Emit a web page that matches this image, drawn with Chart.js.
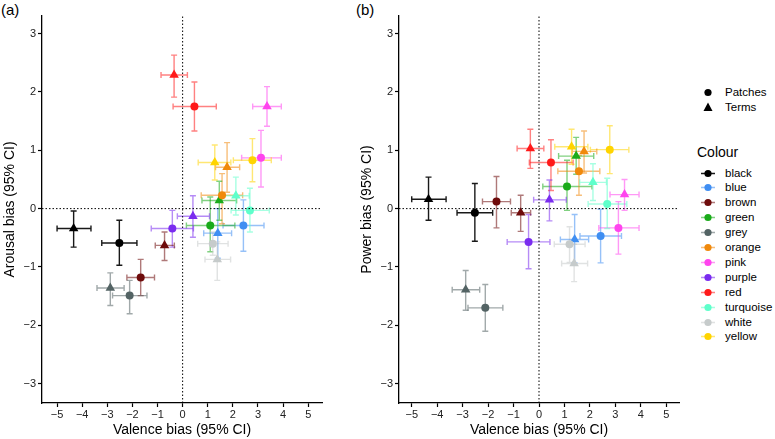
<!DOCTYPE html>
<html>
<head>
<meta charset="utf-8">
<script src="https://cdn.jsdelivr.net/npm/chart.js@4.4.0/dist/chart.umd.min.js"></script>
<style>
body { margin: 0; background: #fff; width: 775px; height: 439px; position: relative; overflow: hidden; font-family: "Liberation Sans", Arial, sans-serif; }
.box { position: absolute; top: 0; width: 335px; height: 439px; }
#boxA { left: 0; }
#boxB { left: 357px; }
.tag { position: absolute; top: 1px; font-size: 15px; color: #000; }
#legend { position: absolute; left: 697px; top: 0; width: 78px; height: 439px; font-size: 11.5px; color: #000; }
.row { position: absolute; left: 0; height: 15px; line-height: 15px; white-space: nowrap; }
.row svg { position: absolute; left: 3px; top: 0; }
.row span { position: absolute; left: 28px; top: 0; }
.ttl { position: absolute; left: 0; font-size: 14px; }
</style>
</head>
<body>
<div class="tag" style="left:1px">(a)</div>
<div class="tag" style="left:356px">(b)</div>
<div class="box" id="boxA"><canvas id="chartA" width="335" height="439"></canvas></div>
<div class="box" id="boxB"><canvas id="chartB" width="335" height="439"></canvas></div>
<div id="legend"></div>
<script>
// colour categories
var colourNames = ['black', 'blue', 'brown', 'green', 'grey', 'orange', 'pink', 'purple', 'red', 'turquoise', 'white', 'yellow'];
var colourHex = ['#000000', '#3f8ef2', '#6e0b0b', '#1aab1a', '#536364', '#f0890c', '#ff44ee', '#7a2cef', '#ff1a1a', '#5effcb', '#c6cbcb', '#ffd400'];

var xTicks = [-5, -4, -3, -2, -1, 0, 1, 2, 3, 4, 5];
var yTicks = [-3, -2, -1, 0, 1, 2, 3];

// patches (circles)
var patchValence   = [-2.52, 2.42, -1.67, 1.10, -2.11, 1.57, 3.12, -0.41, 0.47, 2.68, 1.20, 2.78];
var patchValenceLo = [-3.22, 1.61, -2.22, 0.15, -2.79, 0.74, 2.35, -1.25, -0.38, 1.93, 0.60, 2.02];
var patchValenceHi = [-1.82, 3.24, -1.12, 2.08, -1.42, 2.39, 3.93, 0.43, 1.34, 3.45, 1.81, 3.53];
var patchArousal   = [-0.59, -0.29, -1.18, -0.29, -1.49, 0.23, 0.87, -0.34, 1.75, -0.03, -0.60, 0.83];
var patchArousalLo = [-0.97, -0.73, -1.49, -0.74, -1.80, -0.26, 0.37, -0.66, 1.33, -0.40, -0.80, 0.46];
var patchArousalHi = [-0.20, 0.15, -0.87, 0.20, -1.23, 0.60, 1.34, -0.03, 2.17, 0.35, -0.40, 1.20];
var patchPower     = [-0.07, -0.47, 0.12, 0.38, -1.70, 0.64, -0.33, -0.57, 0.79, 0.08, -0.61, 1.01];
var patchPowerLo   = [-0.56, -0.93, -0.33, -0.03, -2.10, 0.23, -0.78, -1.03, 0.31, -0.34, -0.92, 0.60];
var patchPowerHi   = [0.43, -0.01, 0.55, 0.83, -1.30, 0.91, 0.12, -0.10, 1.18, 0.52, -0.31, 1.42];

// terms (triangles)
var termValence   = [-4.34, 1.40, -0.72, 1.46, -2.88, 1.77, 3.36, 0.41, -0.34, 2.12, 1.38, 1.28];
var termValenceLo = [-5.00, 0.84, -1.09, 0.77, -3.41, 1.31, 2.79, -0.21, -0.86, 1.60, 0.89, 0.62];
var termValenceHi = [-3.65, 1.95, -0.33, 2.15, -2.33, 2.27, 3.93, 1.07, 0.19, 2.65, 1.91, 1.92];
var termArousal   = [-0.34, -0.42, -0.63, 0.14, -1.36, 0.71, 1.75, -0.13, 2.29, 0.22, -0.87, 0.79];
var termArousalLo = [-0.66, -0.85, -0.89, -0.20, -1.66, 0.28, 1.41, -0.49, 1.91, -0.11, -1.23, 0.49];
var termArousalHi = [-0.04, 0.00, -0.40, 0.47, -1.10, 1.13, 2.09, 0.22, 2.63, 0.54, -0.57, 1.09];
var termPower     = [0.16, -0.53, -0.07, 0.90, -1.39, 0.98, 0.24, 0.15, 1.03, 0.45, -0.94, 1.06];
var termPowerLo   = [-0.20, -0.93, -0.39, 0.59, -1.74, 0.61, -0.03, -0.21, 0.69, 0.14, -1.25, 0.76];
var termPowerHi   = [0.54, -0.10, 0.23, 1.22, -1.06, 1.33, 0.50, 0.49, 1.36, 0.77, -0.61, 1.36];

function fade(hex, a) {
    var r = parseInt(hex.slice(1, 3), 16), g = parseInt(hex.slice(3, 5), 16), b = parseInt(hex.slice(5, 7), 16);
    return 'rgba(' + r + ',' + g + ',' + b + ',' + a + ')';
}

var errorBars = {
    id: 'errorBars',
    beforeDatasetsDraw: function (chart) {
        var ctx = chart.ctx, xs = chart.scales.x, ys = chart.scales.y;
        var cap = 3;
        chart.data.datasets.forEach(function (ds) {
            if (!ds.err) return;
            ctx.save();
            ctx.lineWidth = 1.4;
            ds.data.forEach(function (p, j) {
                var e = ds.err[j];
                var px = xs.getPixelForValue(p.x), py = ys.getPixelForValue(p.y);
                var x0 = xs.getPixelForValue(e.xLo), x1 = xs.getPixelForValue(e.xHi);
                var y0 = ys.getPixelForValue(e.yLo), y1 = ys.getPixelForValue(e.yHi);
                ctx.strokeStyle = fade(colourHex[j], colourNames[j] == 'black' ? 0.9 : 0.55);
                ctx.beginPath();
                ctx.moveTo(x0, py); ctx.lineTo(x1, py);
                ctx.moveTo(x0, py - cap); ctx.lineTo(x0, py + cap);
                ctx.moveTo(x1, py - cap); ctx.lineTo(x1, py + cap);
                ctx.moveTo(px, y0); ctx.lineTo(px, y1);
                ctx.moveTo(px - cap, y0); ctx.lineTo(px + cap, y0);
                ctx.moveTo(px - cap, y1); ctx.lineTo(px + cap, y1);
                ctx.stroke();
            });
            ctx.restore();
        });
    }
};

function buildSet(xv, xlo, xhi, yv, ylo, yhi, shape, radius) {
    return {
        data: xv.map(function (v, i) { return { x: v, y: yv[i] }; }),
        err: xv.map(function (v, i) { return { xLo: xlo[i], xHi: xhi[i], yLo: ylo[i], yHi: yhi[i] }; }),
        pointStyle: shape,
        pointRadius: radius,
        pointBackgroundColor: colourHex,
        pointBorderColor: colourHex,
        pointBorderWidth: 0,
        showLine: false
    };
}

function makeChart(id, yVals, yLo, yHi, tVals, tLo, tHi, yTitle, xMin, xMax) {
    var yMin = -3.33, yMax = 3.3;
    var dotted = { type: 'line', borderColor: '#000', borderWidth: 1, borderDash: [1.5, 2], pointRadius: 0, showLine: true };
    return new Chart(document.getElementById(id).getContext('2d'), {
        type: 'scatter',
        data: {
            datasets: [
                Object.assign({ data: [{ x: 0, y: yMin }, { x: 0, y: yMax }] }, dotted),
                Object.assign({ data: [{ x: xMin, y: 0 }, { x: xMax, y: 0 }] }, dotted),
                buildSet(patchValence, patchValenceLo, patchValenceHi, yVals, yLo, yHi, 'circle', 4),
                buildSet(termValence, termValenceLo, termValenceHi, tVals, tLo, tHi, 'triangle', 5.5)
            ]
        },
        options: {
            responsive: false,
            animation: false,
            layout: { padding: { top: 16, right: 13, left: 0, bottom: 0 } },
            plugins: { legend: { display: false }, tooltip: { enabled: false } },
            scales: {
                x: {
                    type: 'linear', min: xMin, max: xMax,
                    afterBuildTicks: function (s) { s.ticks = xTicks.map(function (v) { return { value: v }; }); },
                    afterFit: function (s) { s.height = 36; },
                    grid: { drawOnChartArea: false, drawTicks: true, tickLength: 4, tickColor: '#000', tickWidth: 1.2 },
                    border: { color: '#000', width: 1.3 },
                    ticks: { font: { family: 'Liberation Sans', size: 11 }, color: '#222', padding: 1, maxRotation: 0,
                        callback: function (v) { return v < 0 ? '\u2212' + Math.abs(v) : '' + v; } },
                    title: { display: true, text: 'Valence bias (95% CI)', font: { family: 'Liberation Sans', size: 14 }, color: '#000', padding: 0 }
                },
                y: {
                    type: 'linear', min: yMin, max: yMax,
                    afterBuildTicks: function (s) { s.ticks = yTicks.map(function (v) { return { value: v }; }); },
                    afterFit: function (s) { s.width = 42; },
                    grid: { drawOnChartArea: false, drawTicks: true, tickLength: 4, tickColor: '#000', tickWidth: 1.2 },
                    border: { color: '#000', width: 1.3 },
                    ticks: { font: { family: 'Liberation Sans', size: 11 }, color: '#222', padding: 2,
                        callback: function (v) { return v < 0 ? '\u2212' + Math.abs(v) : '' + v; } },
                    title: { display: true, text: yTitle, font: { family: 'Liberation Sans', size: 14 }, color: '#000', padding: 2 }
                }
            }
        },
        plugins: [errorBars]
    });
}

makeChart('chartA', patchArousal, patchArousalLo, patchArousalHi, termArousal, termArousalLo, termArousalHi, 'Arousal bias (95% CI)', -5.6, 5.55);
makeChart('chartB', patchPower, patchPowerLo, patchPowerHi, termPower, termPowerLo, termPowerHi, 'Power bias (95% CI)', -5.5, 5.5);

// legend
var legend = document.getElementById('legend');
function addRow(top, svg, label) {
    var row = document.createElement('div');
    row.className = 'row';
    row.style.top = (top - 7.5) + 'px';
    row.innerHTML = svg + '<span>' + label + '</span>';
    legend.appendChild(row);
}
addRow(92, '<svg width="16" height="15"><circle cx="8" cy="7.5" r="3.6" fill="#000"/></svg>', 'Patches');
addRow(107, '<svg width="16" height="15"><polygon points="8,2.5 12.5,11 3.5,11" fill="#000"/></svg>', 'Terms');
var ttl = document.createElement('div');
ttl.className = 'ttl';
ttl.style.top = '144px';
ttl.textContent = 'Colour';
legend.appendChild(ttl);
colourNames.forEach(function (name, i) {
    var c = colourHex[i];
    var svg = '<svg width="16" height="15"><line x1="1" y1="7.5" x2="15" y2="7.5" stroke="' + fade(c, name == 'black' ? 0.9 : 0.55) +
        '" stroke-width="1.5"/><circle cx="8" cy="7.5" r="3.6" fill="' + c + '"/></svg>';
    addRow(173 + i * 14.9, svg, name);
});
</script>
</body>
</html>
